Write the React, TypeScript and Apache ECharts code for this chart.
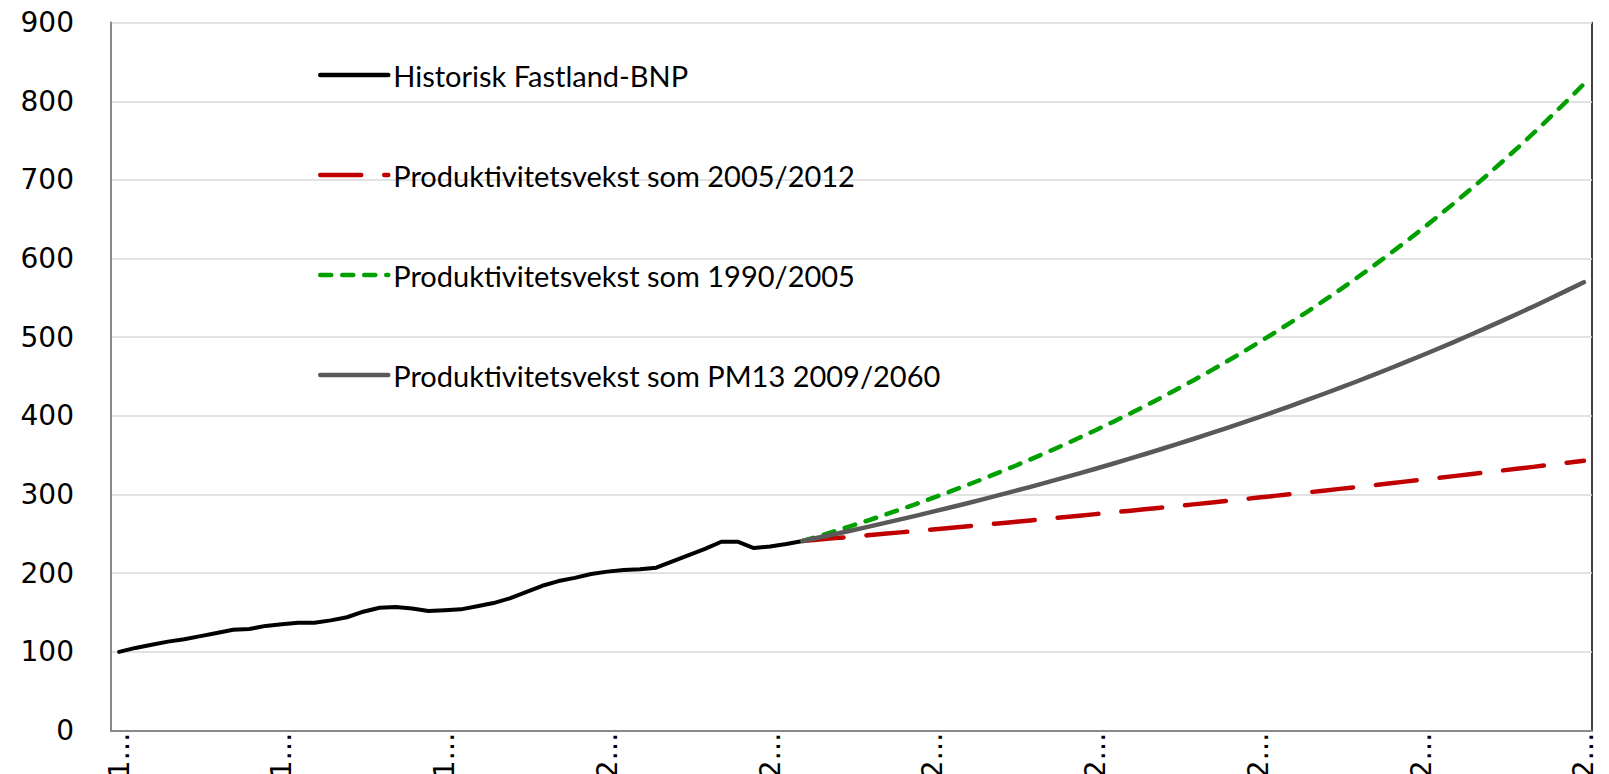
import React, { useEffect, useRef } from "react";
import * as echarts from "echarts";

// Category axis: years 1970–2060
const firstYear = 1970;
const lastYear = 2060;
const years: string[] = [];
for (let y = firstYear; y <= lastYear; y++) years.push(String(y));

// Historical mainland GDP, index 1970 = 100 (1970–2012)
const historiskFastlandBNP = [
  100, 105, 109, 113, 116, 120, 124, 128, 129, 133,
  135, 137, 137, 140, 144, 151, 156, 157, 155, 152,
  153, 154, 158, 162, 168, 176, 184, 190, 194, 199,
  202, 204, 205, 207, 215, 223, 231, 240, 240, 232,
  234, 237, 241,
];

// Projections 2012–2060
const projStartYear = 2012;
const prod2005_2012 = [
  241.0, 242.8, 244.6, 246.4, 248.2, 250.0, 251.9, 253.7, 255.6, 257.5,
  259.4, 261.3, 263.2, 265.2, 267.1, 269.1, 271.1, 273.1, 275.1, 277.1,
  279.2, 281.2, 283.3, 285.4, 287.5, 289.6, 291.8, 293.9, 296.1, 298.3,
  300.5, 302.7, 304.9, 307.2, 309.5, 311.7, 314.0, 316.4, 318.7, 321.0,
  323.4, 325.8, 328.2, 330.6, 333.1, 335.5, 338.0, 340.5, 343.0,
];
const prod1990_2005 = [
  241.0, 247.2, 253.6, 260.2, 266.9, 273.9, 281.0, 288.2, 295.7, 303.3,
  311.2, 319.3, 327.5, 336.0, 344.7, 353.6, 362.8, 372.2, 381.8, 391.7,
  401.8, 412.2, 422.9, 433.9, 445.1, 456.6, 468.5, 480.6, 493.0, 505.8,
  518.9, 532.3, 546.1, 560.2, 574.7, 589.6, 604.9, 620.5, 636.6, 653.1,
  670.0, 687.4, 705.1, 723.4, 742.1, 761.3, 781.1, 801.3, 822.0,
];
const prodPM13 = [
  241.0, 245.4, 249.8, 254.3, 258.9, 263.6, 268.4, 273.2, 278.2, 283.2,
  288.3, 293.6, 298.9, 304.3, 309.8, 315.4, 321.1, 326.9, 332.8, 338.8,
  345.0, 351.2, 357.6, 364.0, 370.6, 377.3, 384.2, 391.1, 398.2, 405.4,
  412.7, 420.2, 427.8, 435.6, 443.4, 451.5, 459.6, 468.0, 476.4, 485.0,
  493.8, 502.8, 511.9, 521.1, 530.5, 540.1, 549.9, 559.9, 570.0,
];

const seriesNames = [
  "Historisk Fastland-BNP",
  "Produktivitetsvekst som 2005/2012",
  "Produktivitetsvekst som 1990/2005",
  "Produktivitetsvekst som PM13 2009/2060",
];

const yMin = 0;
const yMax = 900;
const yInterval = 100;

function placeOnAxis(values: number[], startYear: number): (number | null)[] {
  const out: (number | null)[] = years.map(() => null);
  const offset = startYear - firstYear;
  values.forEach((v, i) => {
    out[offset + i] = v;
  });
  return out;
}

export default function App() {
  const ref = useRef<HTMLDivElement>(null);

  useEffect(() => {
    if (!ref.current) return;
    document.body.style.margin = "0";
    const chart = echarts.init(ref.current, null, { renderer: "svg" });

    const lineBase = { cap: "round" as const, join: "round" as const };

    chart.setOption({
      animation: false,
      backgroundColor: "#ffffff",
      grid: {
        left: 111,
        right: 17,
        top: 22.6,
        bottom: 43.5,
        containLabel: false,
        outerBoundsMode: "none",
      },
      legend: {
        orient: "vertical",
        left: 313,
        top: 55,
        itemWidth: 68,
        itemHeight: 14,
        itemGap: 70,
        selectedMode: false,
        itemStyle: { opacity: 0, borderWidth: 0 },
        lineStyle: { width: 4.5 },
        textStyle: {
          fontFamily: "Lato",
          fontSize: 29,
          color: "#000000",
          lineHeight: 30,
        },
        data: seriesNames,
      },
      xAxis: [
        {
          type: "category",
          data: years,
          boundaryGap: true,
          axisLine: { show: true, lineStyle: { color: "#898989", width: 2 } },
          axisTick: { show: false },
          axisLabel: {
            interval: 9,
            rotate: 90,
            margin: 2,
            fontFamily: "DejaVu Sans",
            fontSize: 28,
            color: "#000000",
            width: 52,
            overflow: "truncate",
            ellipsis: "…",
          },
          splitLine: { show: false },
          z: 3,
        },
        {
          type: "category",
          data: years,
          position: "top",
          boundaryGap: true,
          axisLine: { show: true, lineStyle: { color: "#1a1a1a", width: 1.5 } },
          axisTick: { show: false },
          axisLabel: { show: false },
          splitLine: { show: false },
        },
      ],
      yAxis: [
        {
          type: "value",
          min: yMin,
          max: yMax,
          interval: yInterval,
          axisLine: { show: true, lineStyle: { color: "#898989", width: 2 } },
          axisTick: { show: false },
          axisLabel: {
            margin: 37,
            fontFamily: "DejaVu Sans",
            fontSize: 28,
            color: "#000000",
          },
          splitLine: { show: true, lineStyle: { color: "#d9d9d9", width: 1.5 } },
          z: 3,
        },
        {
          type: "value",
          position: "right",
          min: yMin,
          max: yMax,
          interval: yInterval,
          axisLine: { show: true, lineStyle: { color: "#000000", width: 1.5 } },
          axisTick: { show: false },
          axisLabel: { show: false },
          splitLine: { show: false },
        },
      ],
      series: [
        {
          name: seriesNames[0],
          type: "line",
          data: placeOnAxis(historiskFastlandBNP, firstYear),
          showSymbol: false,
          symbol: "none",
          connectNulls: false,
          lineStyle: { color: "#000000", width: 4, ...lineBase },
          itemStyle: { color: "#000000" },
          z: 4,
        },
        {
          name: seriesNames[1],
          type: "line",
          data: placeOnAxis(prod2005_2012, projStartYear),
          showSymbol: false,
          symbol: "none",
          lineStyle: { color: "#c00000", width: 4.5, type: [41, 23], ...lineBase },
          itemStyle: { color: "#c00000" },
          z: 5,
        },
        {
          name: seriesNames[2],
          type: "line",
          data: placeOnAxis(prod1990_2005, projStartYear),
          showSymbol: false,
          symbol: "none",
          lineStyle: { color: "#00a000", width: 4.5, type: [11, 11], ...lineBase },
          itemStyle: { color: "#00a000" },
          z: 6,
        },
        {
          name: seriesNames[3],
          type: "line",
          data: placeOnAxis(prodPM13, projStartYear),
          showSymbol: false,
          symbol: "none",
          lineStyle: { color: "#595959", width: 4.5, ...lineBase },
          itemStyle: { color: "#595959" },
          z: 7,
        },
      ],
    });

    return () => {
      chart.dispose();
    };
  }, []);

  return (
    <div
      ref={ref}
      style={{ position: "absolute", left: 0, top: 0, width: 1609, height: 774 }}
    />
  );
}
